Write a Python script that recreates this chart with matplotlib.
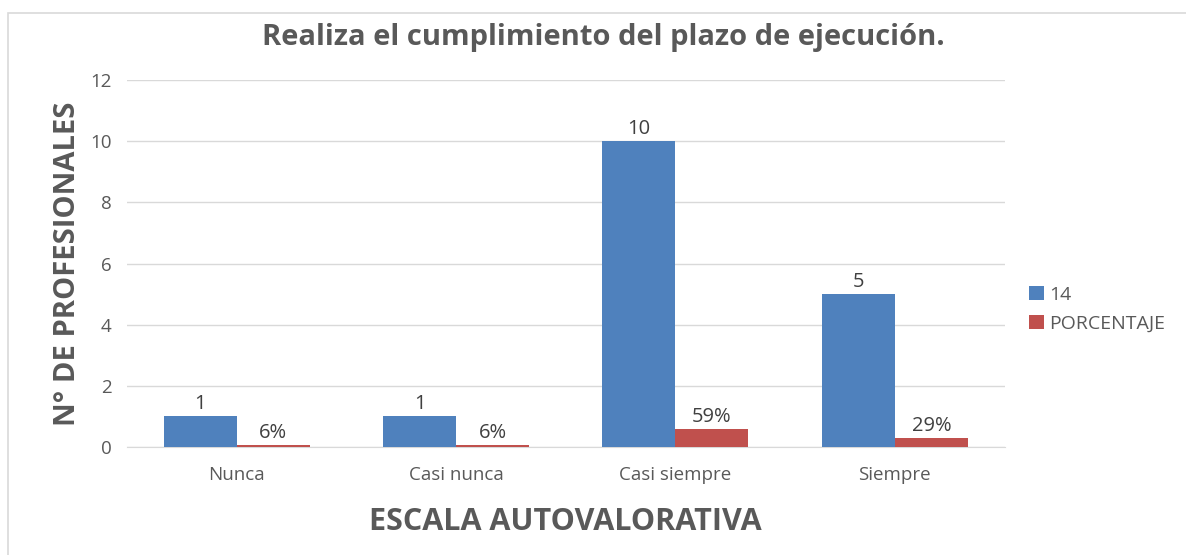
import matplotlib.pyplot as plt
import numpy as np
from matplotlib.patches import Rectangle

categories = ["Nunca", "Casi nunca", "Casi siempre", "Siempre"]
counts = [1, 1, 10, 5]
percent = [0.06, 0.06, 0.59, 0.29]
count_labels = ["1", "1", "10", "5"]
percent_labels = ["6%", "6%", "59%", "29%"]

plt.rcParams["font.family"] = ["Open Sans", "DejaVu Sans"]
text_color = "#595959"

fig = plt.figure(figsize=(11.86, 5.55), dpi=100)
ax = fig.add_axes([0.107, 0.1946, 0.740, 0.661])

# outer chart border
fig.patches.append(Rectangle((0.007, -0.01), 1.0, 0.987, transform=fig.transFigure,
                             fill=False, edgecolor="#D9D9D9", linewidth=1.2))

x = np.arange(len(categories))
w = 0.333
b1 = ax.bar(x - w / 2, counts, w, color="#4F81BD", label="14", zorder=3)
b2 = ax.bar(x + w / 2, percent, w, color="#C0504D", label="PORCENTAJE", zorder=3)

for rect, lab in zip(b1, count_labels):
    ax.text(rect.get_x() + rect.get_width() / 2, rect.get_height() + 0.08, lab,
            ha="center", va="bottom", fontsize=14.5, color="#404040")
for rect, lab in zip(b2, percent_labels):
    ax.text(rect.get_x() + rect.get_width() / 2, rect.get_height() + 0.08, lab,
            ha="center", va="bottom", fontsize=14.5, color="#404040")

ax.set_xlim(-0.5, 3.5)
ax.set_ylim(0, 12)
ax.set_yticks(range(0, 13, 2))
ax.set_xticks(x)
ax.set_xticklabels(categories)
ax.tick_params(axis="both", length=0, labelsize=13.5, labelcolor=text_color)
ax.tick_params(axis="x", pad=14)
ax.tick_params(axis="y", pad=11)
ax.grid(axis="y", color="#D9D9D9", linewidth=1, zorder=0)
for s in ["top", "right", "left"]:
    ax.spines[s].set_visible(False)
ax.spines["bottom"].set_color("#D9D9D9")

fig.suptitle("Realiza el cumplimiento del plazo de ejecución.", x=0.509, y=0.933,
             va="center", fontsize=21, fontweight="bold", color=text_color)
ax.set_xlabel("ESCALA AUTOVALORATIVA", fontsize=22, fontweight="bold",
              color=text_color, labelpad=16)
ax.set_ylabel("N° DE PROFESIONALES", fontsize=21, fontweight="bold",
              color=text_color, labelpad=6)

ax.legend(loc="center left", bbox_to_anchor=(1.008, 0.375), frameon=False,
          fontsize=14, labelcolor=text_color, handlelength=0.75,
          handleheight=0.75, handletextpad=0.3, labelspacing=0.55)

fig.savefig("out.png", dpi=100, facecolor="white")
